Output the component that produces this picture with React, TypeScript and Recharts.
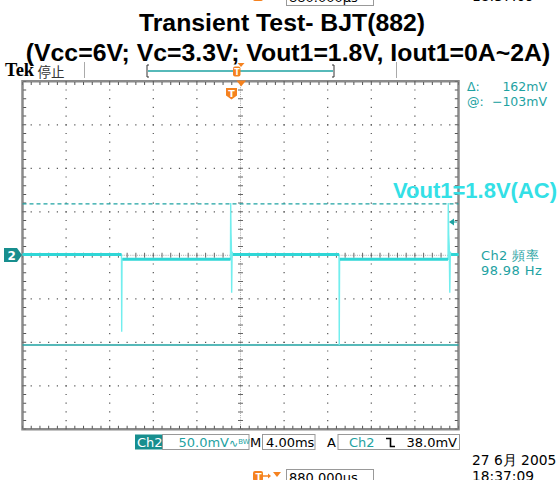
import { ComposedChart, Line, XAxis, YAxis, ReferenceLine, ReferenceArea } from 'recharts';

// Ch2 trace, time in ms (4ms/div), voltage in mV (50mV/div, AC coupled)
const timeMs = [0, 9.08, 9.1, 9.13, 9.17, 19.08, 19.1, 19.13, 19.16, 19.19, 19.23, 19.3, 29.04, 29.06, 29.09, 29.13, 39.04, 39.06, 39.1, 39.15, 39.2, 39.25, 39.32, 40];
const ch2mV = [1, 1, -88, -4, -4.5, -4.5, 60, 26, 12, -43, 4, 1, 1, -103, -4, -4.5, -4.5, 60, 24, 10, -43, 4, 1, 1];
// flat parts of the trace (drawn thicker, like the noise band)
const ch2Band = [1, 1, null, null, -4.5, -4.5, null, null, null, null, null, 1, 1, null, null, -4.5, -4.5, null, null, null, null, null, 1, 1];

const xGrid = [4, 8, 12, 16, 24, 28, 32, 36];
const yGrid = [-150, -100, -50, 50, 100, 150];
const cursorA = 59;
const cursorB = -103;

const TEAL = '#1ea2a2';
const ORANGE = '#f5821f';
const MONO = '"DejaVu Sans", sans-serif';

const StatusRow = ({ dy }: { dy: number }) => (
  <g transform={`translate(0,${dy})`} fontFamily={MONO} fontSize={13}>
    <rect x={253} y={471} width={10} height={10} rx={2} fill={ORANGE} />
    <text x={255.5} y={479.5} fontSize={9} fontWeight="bold" fill="#fff">T</text>
    <path d="M263,476 H270" stroke={ORANGE} strokeWidth={1.5} />
    <path d="M268,473.5 L271,476 L268,478.5 Z" fill={ORANGE} />
    <path d="M273,472 L281,472 L277,477 Z" fill={ORANGE} />
    <rect x={286.5} y={469.5} width={87} height={16} fill="#fff" stroke="#999" />
    <text x={289} y={481.5} fill="#000">880.000µs</text>
    <text x={472} y={464.5} fontSize={13.8} fill="#000">27 6月  2005</text>
    <text x={472} y={481} fontSize={13.8} fill="#000">18:37:09</text>
  </g>
);

const Overlay = () => (
  <svg width={560} height={480} style={{ position: 'absolute', left: 0, top: 0, pointerEvents: 'none' }}>
    <text x={282} y={30.5} textAnchor="middle" fontFamily='"Liberation Sans", Arial' fontWeight="bold" fontSize={24.8} fill="#000">
      Transient Test- BJT(882)
    </text>
    <text x={288} y={60.5} textAnchor="middle" fontFamily='"Liberation Sans", Arial' fontWeight="bold" fontSize={24.8} fill="#000">
      (Vcc=6V; Vc=3.3V; Vout1=1.8V, Iout1=0A~2A)
    </text>

    {/* header */}
    <text x={5} y={75.5} fontFamily='"Liberation Serif", serif' fontWeight="bold" fontSize={18.5} fill="#000">Tek</text>
    <text x={37.5} y={77} fontFamily='"Noto Sans CJK TC", sans-serif' fontSize={13.5} fill="#333">停止</text>
    <path d="M84.5,62 V78" stroke="#aaa" />
    <path d="M396.5,62 V78" stroke="#aaa" />
    <path d="M149,65 H147 V77 H149" stroke="#333" fill="none" />
    <path d="M332,65 H334 V77 H332" stroke="#333" fill="none" />
    <path d="M148,71 H333" stroke={TEAL} strokeWidth={1.5} />
    <path d="M237.5,63 L244.5,63 L241,67 Z" fill={ORANGE} />
    <rect x={233} y={66.5} width={7.5} height={10} rx={2} fill={ORANGE} />
    <text x={234.3} y={75} fontSize={8} fontWeight="bold" fontFamily={MONO} fill="#fff">T</text>

    {/* trigger markers */}
    <path d="M236.5,80.5 L246,80.5 L241.2,86.5 Z" fill={ORANGE} />
    <path d="M226,88 H237 V95.5 L231.5,99.5 L226,95.5 Z" fill={ORANGE} />
    <text x={228.2} y={96.5} fontSize={9.5} fontWeight="bold" fontFamily={MONO} fill="#fff">T</text>

    {/* channel marker */}
    <path d="M4,248 H17 L22,255 L17,262 H4 Z" fill="#178e8e" />
    <text x={7.5} y={259.5} fontSize={12} fontWeight="bold" fontFamily={MONO} fill="#fff">2</text>
    <path d="M449,222 L454,218.5 L454,225.5 Z" fill={TEAL} />
    <path d="M454,222 H457" stroke={TEAL} />

    {/* readouts */}
    <g fontFamily={MONO} fontSize={12.5} fill={TEAL}>
      <text x={467} y={90.5}>Δ:</text>
      <text x={547} y={90.5} textAnchor="end">162mV</text>
      <text x={467} y={105.5}>@:</text>
      <text x={547} y={105.5} textAnchor="end">−103mV</text>
    </g>
    <g fontFamily={MONO} fontSize={13} fill={TEAL} letterSpacing={0.4}>
      <text x={481} y={259.5}>Ch2 頻率</text>
      <text x={481} y={274.5}>98.98 Hz</text>
    </g>
    <text x={393} y={198} fontFamily='"Liberation Sans", Arial' fontWeight="bold" fontSize={22} fill="#33e0e6">
      Vout1=1.8V(AC)
    </text>

    {/* bottom status bar */}
    <g fontFamily={MONO} fontSize={13}>
      <rect x={135} y={434.5} width={27.5} height={15} fill="#178e8e" />
      <text x={137} y={446.5} fill="#fff">Ch2</text>
      <rect x={162.5} y={434.5} width={86.5} height={15} fill="#fff" stroke="#999" />
      <text x={178.5} y={446.5} fill={TEAL}>
        50.0mV<tspan fontSize={11}>∿</tspan><tspan fontSize={7} dy={-3}>BW</tspan>
      </text>
      <text x={250} y={446.5} fill="#000">M</text>
      <rect x={262.5} y={434.5} width={52.5} height={15} fill="#fff" stroke="#999" />
      <text x={266} y={446.5} fill="#000">4.00ms</text>
      <text x={327} y={446.5} fill="#000">A</text>
      <rect x={338} y={434.5} width={121.5} height={15} fill="#fff" stroke="#999" />
      <text x={349} y={446.5} fill={TEAL}>Ch2</text>
      <path d="M386,438.5 H390.5 V446.5 H395" stroke="#000" strokeWidth={1.6} fill="none" />
      <text x={457} y={446.5} textAnchor="end" fill="#000">38.0mV</text>
    </g>
    <StatusRow dy={0} />
    <StatusRow dy={-480} />
  </svg>
);

const App = () => {
  const rows = timeMs.map((t, i) => ({ t, v: ch2mV[i], band: ch2Band[i] }));
  return (
    <div style={{ position: 'absolute', left: 0, top: 0, width: 560, height: 480, background: '#fff' }}>
      <ComposedChart width={560} height={480} data={rows} margin={{ top: 81.3, left: 22.5, right: 101.5, bottom: 50.7 }}>
        <XAxis type="number" dataKey="t" domain={[0, 40]} hide />
        <YAxis type="number" domain={[-200, 200]} hide />

        {xGrid.map((x) => (
          <ReferenceLine key={'x' + x} x={x} stroke="#555" strokeWidth={1.2} strokeDasharray="1.2 7.5" strokeDashoffset={0.6} />
        ))}
        {yGrid.map((y) => (
          <ReferenceLine key={'y' + y} y={y} stroke="#555" strokeWidth={1.2} strokeDasharray="1.2 7.52" strokeDashoffset={0.6} />
        ))}
        <ReferenceLine x={20} stroke="#aaa" strokeDasharray="1 1.2" />
        <ReferenceLine x={20} stroke="#666" strokeWidth={5} strokeDasharray="1 7.7" strokeDashoffset={0.5} />
        <ReferenceLine y={0} stroke="#aaa" strokeDasharray="1 1.2" />
        <ReferenceLine y={0} stroke="#666" strokeWidth={5} strokeDasharray="1 7.72" strokeDashoffset={0.5} />

        <ReferenceLine y={197.5} stroke="#555" strokeWidth={3} strokeDasharray="1 7.72" strokeDashoffset={0.5} />
        <ReferenceLine y={-197.5} stroke="#555" strokeWidth={3} strokeDasharray="1 7.72" strokeDashoffset={0.5} />
        <ReferenceLine x={0.2} stroke="#555" strokeWidth={3} strokeDasharray="1 7.7" strokeDashoffset={0.5} />
        <ReferenceLine x={39.8} stroke="#555" strokeWidth={3} strokeDasharray="1 7.7" strokeDashoffset={0.5} />
        <ReferenceArea x1={0} x2={40} y1={-200} y2={200} fill="none" fillOpacity={0} stroke="#8a8a8a" strokeWidth={2.5} />

        <ReferenceLine y={cursorA} stroke={TEAL} strokeWidth={1.2} strokeDasharray="4 3" />
        <ReferenceLine y={cursorB} stroke={TEAL} strokeWidth={1.5} />

        <Line type="linear" dataKey="v" stroke="#72eeee" strokeWidth={1.4} dot={false} isAnimationActive={false} />
        <Line type="linear" dataKey="band" stroke="#2fd6d6" strokeWidth={3} dot={false} isAnimationActive={false} />
      </ComposedChart>
      <Overlay />
    </div>
  );
};

export default App;
